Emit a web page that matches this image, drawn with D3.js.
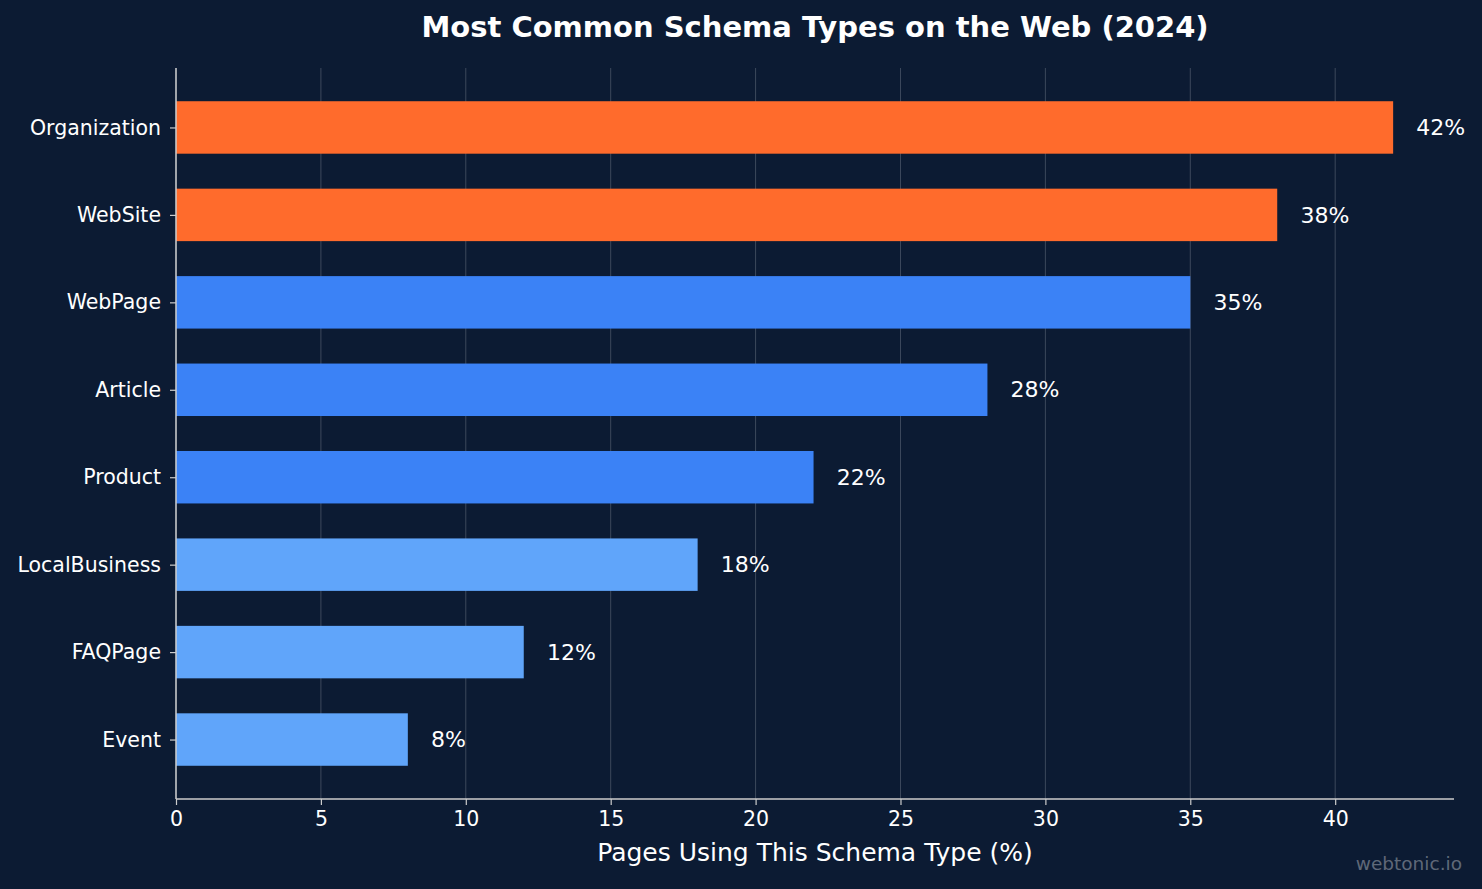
<!DOCTYPE html>
<html><head><meta charset="utf-8">
<script src="https://cdn.jsdelivr.net/npm/d3@7/dist/d3.min.js"></script>
<style>
html,body{margin:0;padding:0;background:#0c1b33;}
svg{display:block;font-family:"DejaVu Sans",sans-serif;}
</style></head>
<body>
<svg id="chart" width="1482" height="889"></svg>
<script>
const categories = ["Organization","WebSite","WebPage","Article","Product","LocalBusiness","FAQPage","Event"];
const values = [42,38,35,28,22,18,12,8];
const colors = ["#ff6b2c","#ff6b2c","#3b82f6","#3b82f6","#3b82f6","#60a5fa","#60a5fa","#60a5fa"];
const xTicks = [0,5,10,15,20,25,30,35,40];
const title = "Most Common Schema Types on the Web (2024)";
const xLabel = "Pages Using This Schema Type (%)";
const watermark = "webtonic.io";

const W = 1482, H = 889;
const m = {left:176, right:28, top:68, bottom:90};
const svg = d3.select("#chart");
svg.append("rect").attr("width",W).attr("height",H).attr("fill","#0c1b33");

const x = d3.scaleLinear().domain([0, d3.max(values)*1.05]).range([m.left, W-m.right]);
const n = categories.length;
const y = d3.scaleLinear().domain([-0.68, n-1+0.68]).range([m.top, H-m.bottom]);
const bh = y(0.3)-y(-0.3);

// grid
svg.append("g").selectAll("line").data(xTicks).join("line")
  .attr("x1",d=>x(d)).attr("x2",d=>x(d)).attr("y1",m.top).attr("y2",H-m.bottom)
  .attr("stroke","#ffffff").attr("stroke-opacity",0.2).attr("stroke-width",1);

// bars
svg.append("g").selectAll("rect").data(values).join("rect")
  .attr("x",x(0)).attr("y",(d,i)=>y(i)-bh/2)
  .attr("width",d=>x(d)-x(0)).attr("height",bh)
  .attr("fill",(d,i)=>colors[i]);

// value labels
svg.append("g").selectAll("text").data(values).join("text")
  .attr("x",d=>x(d+0.8)).attr("y",(d,i)=>y(i)).attr("dy","0.35em")
  .attr("fill","#ffffff").attr("font-size",22).text(d=>d+"%");

// axes
const xAxis = svg.append("g").attr("transform",`translate(0,${H-m.bottom})`)
  .call(d3.axisBottom(x).tickValues(xTicks).tickSize(6).tickPadding(4));
const yAxis = svg.append("g").attr("transform",`translate(${m.left},0)`)
  .call(d3.axisLeft(y).tickValues(d3.range(n)).tickFormat(i=>categories[i]).tickSize(6).tickPadding(9));
[xAxis,yAxis].forEach(g=>{
  g.select(".domain").remove();
  g.selectAll(".tick line").attr("stroke","#cccccc").attr("stroke-width",1.2);
  g.selectAll(".tick text").attr("fill","#ffffff").attr("font-size",20.5).attr("font-family","DejaVu Sans");
});
xAxis.selectAll(".tick text").attr("dy","0.85em");
// spines
svg.append("line").attr("x1",m.left).attr("x2",m.left).attr("y1",m.top).attr("y2",H-m.bottom)
  .attr("stroke","#cccccc").attr("stroke-width",1.5);
svg.append("line").attr("x1",m.left).attr("x2",W-m.right).attr("y1",H-m.bottom).attr("y2",H-m.bottom)
  .attr("stroke","#cccccc").attr("stroke-width",1.5);

// title
svg.append("text").attr("x",(m.left+W-m.right)/2).attr("y",37).attr("text-anchor","middle")
  .attr("fill","#ffffff").attr("font-size",29).attr("font-weight","bold").text(title);
// x label
svg.append("text").attr("x",(m.left+W-m.right)/2).attr("y",861).attr("text-anchor","middle")
  .attr("fill","#ffffff").attr("font-size",25).text(xLabel);
// watermark
svg.append("text").attr("x",1462).attr("y",870).attr("text-anchor","end")
  .attr("fill","#ffffff").attr("fill-opacity",0.35).attr("font-size",18.5).text(watermark);
</script>
</body></html>
